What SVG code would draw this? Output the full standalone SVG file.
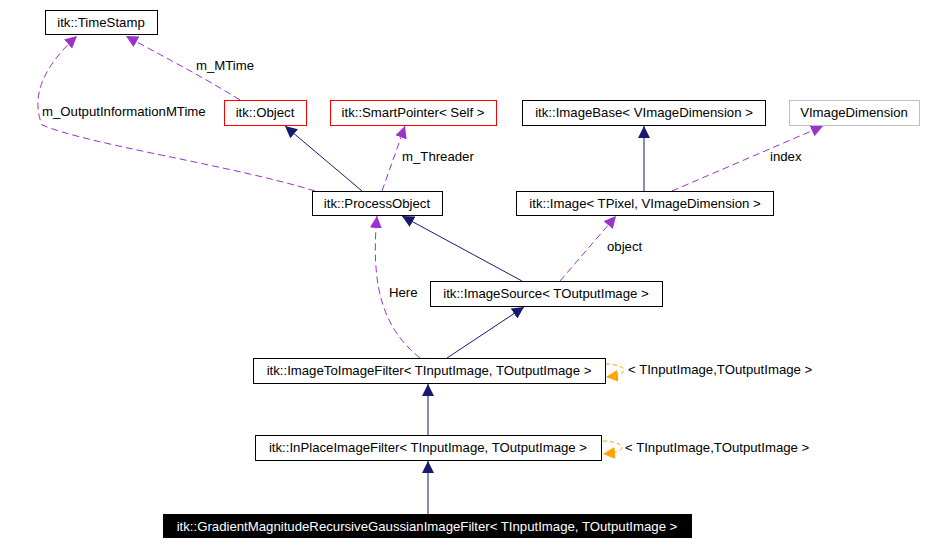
<svg xmlns="http://www.w3.org/2000/svg" width="927" height="546" viewBox="0 0 927 546">
<style>
text{font-family:"Liberation Sans",Arial,sans-serif;font-size:13.2px;fill:#000}
.n{fill:#fff;stroke:#000;stroke-width:1}
.r{stroke:#f00}
.g{stroke:#bfbfbf}
.s{fill:none;stroke:#191970;stroke-width:1}
.d{fill:none;stroke:#9a32cd;stroke-width:1;stroke-dasharray:7,4}
.o{fill:none;stroke:#ffa500;stroke-width:1;stroke-dasharray:4,3}
</style>
<defs>
<marker id="an" viewBox="0 0 10 10" refX="10" refY="5" markerWidth="12" markerHeight="12" markerUnits="userSpaceOnUse" orient="auto"><path d="M0,0L10,5L0,10z" fill="#191970"/></marker>
<marker id="ap" viewBox="0 0 10 10" refX="10" refY="5" markerWidth="12" markerHeight="12" markerUnits="userSpaceOnUse" orient="auto"><path d="M0,0L10,5L0,10z" fill="#9a32cd"/></marker>
<marker id="ao" viewBox="0 0 10 10" refX="10" refY="5" markerWidth="12" markerHeight="12" markerUnits="userSpaceOnUse" orient="auto"><path d="M0,0L10,5L0,10z" fill="#ffa500"/></marker>
</defs>
<rect width="927" height="546" fill="#fff"/>
<g id="edges">
<path class="s" marker-end="url(#an)" d="M362,191L285,126"/>
<path class="d" marker-end="url(#ap)" d="M382,191L405,126"/>
<path class="d" marker-end="url(#ap)" d="M240,100C200,75 160,55 126,36"/>
<path class="d" marker-end="url(#ap)" d="M315,191C230,165 90,145 42,125C30,95 45,65 77,36"/>
<path class="s" marker-end="url(#an)" d="M644,191L644,126"/>
<path class="d" marker-end="url(#ap)" d="M672,191L823,126"/>
<path class="s" marker-end="url(#an)" d="M522,281L402,216"/>
<path class="d" marker-end="url(#ap)" d="M560,281L616,216"/>
<path class="d" marker-end="url(#ap)" d="M420,358C385,330 370,290 377,216"/>
<path class="s" marker-end="url(#an)" d="M447,358L524,307"/>
<path class="s" marker-end="url(#an)" d="M428,435L428,384"/>
<path class="s" marker-end="url(#an)" d="M428,514L428,461"/>
<path class="o" marker-end="url(#ao)" d="M606,364C616,364 624,367 624,370C624,374 616,376 606,377"/>
<path class="o" marker-end="url(#ao)" d="M603,441C612,441 622,444 622,447C622,451 614,453 603,454"/>
<text x="196" y="70">m_MTime</text>
<text x="42" y="116">m_OutputInformationMTime</text>
<text x="402" y="161">m_Threader</text>
<text x="770" y="161">index</text>
<text x="607" y="251">object</text>
<text x="389" y="297">Here</text>
<text x="628" y="374">&lt; TInputImage,TOutputImage &gt;</text>
<text x="625" y="452">&lt; TInputImage,TOutputImage &gt;</text>
</g>
<g id="timestamp"><rect class="n" x="45.5" y="10.5" width="112" height="24"/><text x="101" y="27" text-anchor="middle">itk::TimeStamp</text></g>
<g id="object"><rect class="n r" x="224.5" y="100.5" width="82" height="25"/><text x="265" y="117" text-anchor="middle">itk::Object</text></g>
<g id="smartpointer"><rect class="n r" x="330.5" y="100.5" width="166" height="25"/><text x="413" y="117" text-anchor="middle">itk::SmartPointer&lt; Self &gt;</text></g>
<g id="imagebase"><rect class="n" x="522.5" y="100.5" width="243" height="25"/><text x="644" y="117" text-anchor="middle">itk::ImageBase&lt; VImageDimension &gt;</text></g>
<g id="vimagedimension"><rect class="n g" x="789.5" y="100.5" width="130" height="25"/><text x="854" y="117" text-anchor="middle">VImageDimension</text></g>
<g id="processobject"><rect class="n" x="312.5" y="191.5" width="130" height="24"/><text x="377" y="208" text-anchor="middle">itk::ProcessObject</text></g>
<g id="image"><rect class="n" x="516.5" y="191.5" width="257" height="24"/><text x="645" y="208" text-anchor="middle">itk::Image&lt; TPixel, VImageDimension &gt;</text></g>
<g id="imagesource"><rect class="n" x="430.5" y="281.5" width="232" height="25"/><text x="546" y="298" text-anchor="middle">itk::ImageSource&lt; TOutputImage &gt;</text></g>
<g id="imagetoimagefilter"><rect class="n" x="253.5" y="358.5" width="352" height="25"/><text x="429" y="375" text-anchor="middle">itk::ImageToImageFilter&lt; TInputImage, TOutputImage &gt;</text></g>
<g id="inplaceimagefilter"><rect class="n" x="255.5" y="435.5" width="346" height="25"/><text x="428" y="452" text-anchor="middle">itk::InPlaceImageFilter&lt; TInputImage, TOutputImage &gt;</text></g>
<g id="gradient"><rect x="163" y="514" width="529" height="24" fill="#000"/><text x="427" y="531" text-anchor="middle" style="fill:#fff">itk::GradientMagnitudeRecursiveGaussianImageFilter&lt; TInputImage, TOutputImage &gt;</text></g>
</svg>
